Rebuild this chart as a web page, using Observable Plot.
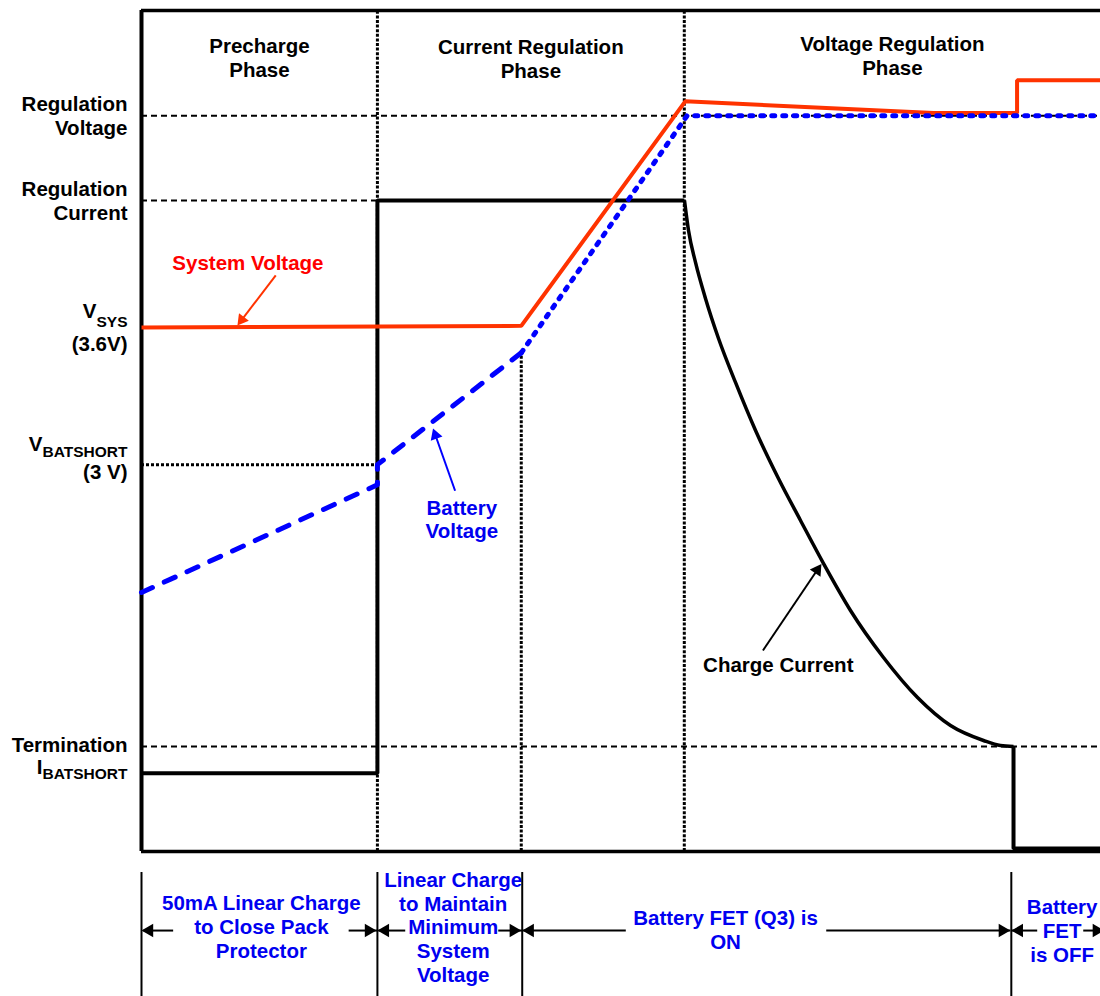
<!DOCTYPE html>
<html><head><meta charset="utf-8">
<script src="https://cdn.jsdelivr.net/npm/d3@7"></script>
<script src="https://cdn.jsdelivr.net/npm/@observablehq/plot@0.6"></script>
<style>
html,body{margin:0;padding:0;background:#fff;overflow:hidden;}
#chart svg{display:block;}
</style>
</head><body><div id="chart"></div>
<script>
// ---------- data (time units 0..100, level units 0..100) ----------
const phaseNames = ["Precharge\nPhase", "Current Regulation\nPhase", "Voltage Regulation\nPhase"];
const phaseBounds = [0, 24.6, 56.6, 100];
const phaseDy = [66, 67, 64];
const linearEnd = 39.6;          // end of linear charge (min system voltage reached)

const levelKeys = ["regV", "regI", "vsys", "vbatshort", "term", "ibatshort"];
const levelValues = [87.5, 77.4, 62.3, 46.0, 12.5, 9.3];

// System voltage
const sysT = [0, 39.6, 56.7, 82.6, 91.3, 91.3, 100];
const sysV = [62.3, 62.5, 89.2, 87.8, 87.8, 91.7, 91.7];
// Battery voltage
const batDashT = [0, 24.6, 24.6, 39.6];
const batDashV = [30.8, 43.6, 46.0, 59.3];
const batDotT = [39.6, 56.9, 100];
const batDotV = [59.3, 87.5, 87.5];
// Charge current
const chgStepT = [0, 24.6, 24.6, 56.6];
const chgStepV = [9.3, 9.3, 77.4, 77.4];
const chgTaperT = [56.62, 57.04, 57.77, 58.81, 60.17, 61.94, 64.03, 66.42, 68.72, 71.12, 73.93, 77.37, 80.92, 84.36, 87.80, 89.57, 90.93];
const chgTaperV = [77.41, 73.84, 70.04, 65.76, 61.00, 55.77, 50.06, 44.35, 39.36, 34.24, 28.66, 23.07, 18.31, 14.98, 13.20, 12.60, 12.49];
const chgOffT = [90.93, 90.93, 100];
const chgOffV = [12.49, 0.36, 0.36];

// bottom annotation band
const bandBounds = [0, 24.6, 39.7, 90.7];
const bandTexts = ["50mA Linear Charge\nto Close Pack\nProtector",
  "Linear Charge\nto Maintain\nMinimum\nSystem\nVoltage",
  "Battery FET (Q3) is\nON",
  "Battery\nFET\nis OFF"];
const bandTextT = [12.5, 32.5, 60.9, 96.0];
const bandTextDy = [106, 130, 97, 110];
const bandShaftX1 = [0.2, 21.6, 24.7, 37.2, 39.8, 71.4, 90.7, 98.2];
const bandShaftX2 = [3.3, 24.6, 27.5, 39.7, 50.5, 90.6, 93.4, 100];
const bandY = [-2.5, -17.3];
const bandArrowY = -9.4;

// ---------- layout ----------
const W = 1100, H = 996, ML = 141, MR = 0, MT = 10, MB = 145;
const FONT = "'Liberation Sans', Arial, sans-serif";
const FS = 20.5;
const RED = "#ff3300", BLUE = "#0000ff", TXT_BLUE = "#0000f0";
const L = Object.fromEntries(levelKeys.map((k, i) => [k, levelValues[i]]));
const pts = (T, V) => T.map((t, i) => ({t, v: V[i]}));

const xs = Plot.scale({x: {domain: [0, 100], range: [ML, W - MR]}});
const ys = Plot.scale({y: {domain: [0, 100], range: [H - MB, MT]}});

function arrow(fromT, fromV, tipT, tipV, color, r, sw, shaft = true) {
  const px = xs.apply(tipT), py = ys.apply(tipV);
  const fx = xs.apply(fromT), fy = ys.apply(fromV);
  const len = Math.hypot(px - fx, py - fy);
  const ux = (px - fx) / len, uy = (py - fy) / len;
  const off = 1.555 * r;
  const angle = Math.atan2(ux, -uy) * 180 / Math.PI;
  const marks = [Plot.dot([{t: tipT, v: tipV}], {x: "t", y: "v", symbol: "triangle", r, fill: color, stroke: "none", rotate: angle, dx: -ux * off, dy: -uy * off})];
  if (shaft) {
    const ex = xs.invert(px - ux * off), ey = ys.invert(py - uy * off);
    marks.unshift(Plot.link([{a: fromT, b: fromV, c: ex, d: ey}], {x1: "a", y1: "b", x2: "c", y2: "d", stroke: color, strokeWidth: sw}));
  }
  return marks;
}

const ctx = document.createElement("canvas").getContext("2d");
function textWidth(s, size) { ctx.font = `bold ${size}px 'Liberation Sans'`; return ctx.measureText(s).width; }

const label = (data, opts) => Plot.text(data, {fontFamily: FONT, fontWeight: "bold", fontSize: FS, lineHeight: 1.13, lineAnchor: "bottom", ...opts});

const SUB = 15.5;
const subLabels = [
  {main: "V", sub: "SYS", level: L.vsys, dyMain: -10, dySub: -1},
  {main: "V", sub: "BATSHORT", level: L.vbatshort, dyMain: -14, dySub: -8},
  {main: "I", sub: "BATSHORT", level: L.ibatshort, dyMain: 1, dySub: 6}
];
const subMarks = subLabels.flatMap(s => [
  label([s.level], {x: 0, y: d => d, text: [s.sub], fontSize: SUB, textAnchor: "end", dx: -14, dy: s.dySub}),
  label([s.level], {x: 0, y: d => d, text: [s.main], textAnchor: "end", dx: -14 - textWidth(s.sub, SUB), dy: s.dyMain})
]);

const dashed = {stroke: "#000", strokeWidth: 2, strokeDasharray: "6,4"};
const dotted = {stroke: "#000", strokeWidth: 3, strokeDasharray: "3,1.6"};

const bandHeads = [
  ...bandBounds.map(b => arrow(b + 3, bandArrowY, b, bandArrowY, "#000", 5, 2, false)),
  ...bandBounds.slice(1).map(b => arrow(b - 3, bandArrowY, b - 0.1, bandArrowY, "#000", 5, 2, false)),
  arrow(96, bandArrowY, 100.4, bandArrowY, "#000", 5, 2, false)
].flat();

const chart = Plot.plot({
  width: W, height: H,
  marginLeft: ML, marginRight: MR, marginTop: MT, marginBottom: MB,
  x: {domain: [0, 100], axis: null},
  y: {domain: [0, 100], axis: null},
  style: {fontFamily: FONT, background: "#fff"},
  marks: [
    // reference lines
    Plot.ruleY([L.regV], {x1: 0, x2: 100, ...dashed}),
    Plot.ruleY([L.regI], {x1: 0, x2: phaseBounds[1], ...dashed}),
    Plot.ruleY([L.term], {x1: 0, x2: 100, ...dashed}),
    Plot.ruleY([L.vbatshort], {x1: 0, x2: phaseBounds[1], stroke: "#000", strokeWidth: 3, strokeDasharray: "3,2"}),
    Plot.ruleX([phaseBounds[1], phaseBounds[2]], {y1: 0, y2: 100, ...dotted}),
    Plot.ruleX([linearEnd], {y1: 0, y2: batDashV[3], ...dotted}),
    // frame
    Plot.ruleY([100], {x1: 0, x2: 100, stroke: "#000", strokeWidth: 3.5}),
    Plot.ruleY([0], {x1: 0, x2: 100, stroke: "#000", strokeWidth: 3.5}),
    Plot.ruleX([0], {y1: 0, y2: 100, stroke: "#000", strokeWidth: 4}),
    // charge current
    Plot.line(pts(chgStepT, chgStepV), {x: "t", y: "v", stroke: "#000", strokeWidth: 4, strokeLinejoin: "miter", strokeLinecap: "butt"}),
    Plot.line(pts(chgTaperT, chgTaperV), {x: "t", y: "v", stroke: "#000", strokeWidth: 3.5, curve: "monotone-x", strokeLinecap: "butt"}),
    Plot.line(pts(chgOffT, chgOffV), {x: "t", y: "v", stroke: "#000", strokeWidth: 4, strokeLinejoin: "miter", strokeLinecap: "butt"}),
    // system voltage
    Plot.line(pts(sysT, sysV), {x: "t", y: "v", stroke: RED, strokeWidth: 4, strokeLinejoin: "miter", strokeLinecap: "butt"}),
    // battery voltage
    Plot.line(pts(batDashT, batDashV), {x: "t", y: "v", stroke: BLUE, strokeWidth: 5, strokeDasharray: "12,13", strokeLinecap: "round"}),
    Plot.line(pts(batDotT, batDotV), {x: "t", y: "v", stroke: BLUE, strokeWidth: 5, strokeDasharray: "3,8", strokeLinecap: "round"}),
    // annotation arrows
    ...arrow(14.0, 68.5, 10.0, 62.55, RED, 4.6, 2),
    ...arrow(32.7, 42.9, 30.4, 50.3, BLUE, 4.6, 2),
    ...arrow(64.8, 23.9, 70.9, 34.2, "#000", 4.8, 2),
    // bottom band
    Plot.ruleX(bandBounds, {y1: bandY[0], y2: bandY[1], stroke: "#000", strokeWidth: 2}),
    Plot.link(bandShaftX1.map((a, i) => ({a, b: bandShaftX2[i]})), {x1: "a", x2: "b", y1: bandArrowY, y2: bandArrowY, stroke: "#000", strokeWidth: 2}),
    ...bandHeads,
    // phase labels
    ...phaseNames.map((s, i) => label([s], {x: (phaseBounds[i] + phaseBounds[i + 1]) / 2, y: 100, text: d => d, textAnchor: "middle", dy: phaseDy[i]})),
    // level labels
    label([L.regV, L.regI], {x: 0, y: d => d, text: ["Regulation\nVoltage", "Regulation\nCurrent"], textAnchor: "end", dx: -14, dy: 19}),
    ...subMarks,
    label([L.vsys], {x: 0, y: d => d, text: ["(3.6V)"], textAnchor: "end", dx: -14, dy: 23}),
    label([L.vbatshort], {x: 0, y: d => d, text: ["(3 V)"], textAnchor: "end", dx: -14, dy: 14}),
    label([L.term], {x: 0, y: d => d, text: ["Termination"], textAnchor: "end", dx: -14, dy: 6}),
    // series labels
    label([{t: 11.1, v: 69.1}], {x: "t", y: "v", text: ["System Voltage"], fill: "#ff0000", textAnchor: "middle"}),
    label([{t: 33.4, v: 37.3}], {x: "t", y: "v", text: ["Battery\nVoltage"], fill: TXT_BLUE, textAnchor: "middle"}),
    label([{t: 66.4, v: 21.3}], {x: "t", y: "v", text: ["Charge Current"], textAnchor: "middle"}),
    // band labels
    ...bandTexts.map((s, i) => label([s], {x: bandTextT[i], y: 0, text: d => d, fill: TXT_BLUE, textAnchor: "middle", lineHeight: 1.15, dy: bandTextDy[i]}))
  ]
});
document.getElementById("chart").appendChild(chart);
</script>
</body></html>
